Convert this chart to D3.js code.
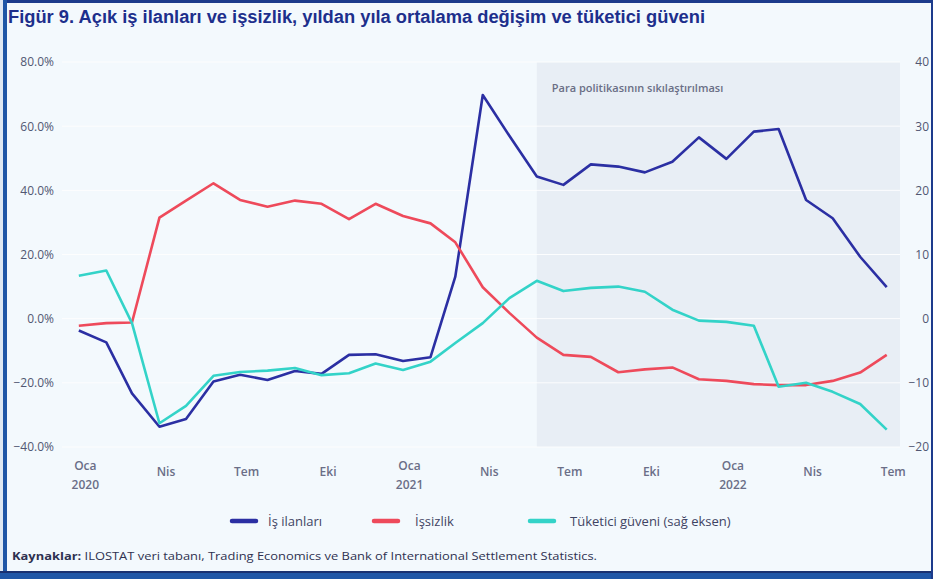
<!DOCTYPE html>
<html>
<head>
<meta charset="utf-8">
<script src="https://cdn.jsdelivr.net/npm/d3@7"></script>
<style>
  html, body { margin: 0; padding: 0; background: #f3f9fd; }
  svg { display: block; }
  text { font-family: "Open Sans", "DejaVu Sans", sans-serif; }
</style>
</head>
<body>
<svg id="chart" width="933" height="579"></svg>
<script>
// ---- Data (monthly, Jan 2020 – Jul 2022) ----
const months = [
  "2020-01","2020-02","2020-03","2020-04","2020-05","2020-06","2020-07","2020-08","2020-09","2020-10","2020-11","2020-12",
  "2021-01","2021-02","2021-03","2021-04","2021-05","2021-06","2021-07","2021-08","2021-09","2021-10","2021-11","2021-12",
  "2022-01","2022-02","2022-03","2022-04","2022-05","2022-06","2022-07"
];
// İş ilanları (% yoy, left axis)
const isIlanlari = [
  -3.7, -7.4, -23.3, -33.7, -31.3, -19.6, -17.5, -19.1, -16.3, -17.2, -11.3, -11.1,
  -13.2, -12.0, 13.1, 69.7, 57.0, 44.3, 41.7, 48.1, 47.4, 45.6, 48.9, 56.5,
  49.8, 58.3, 59.1, 37.0, 31.3, 19.3, 9.8
];
// İşsizlik (% yoy, left axis)
const issizlik = [
  -2.2, -1.4, -1.2, 31.5, 36.8, 42.2, 37.0, 34.9, 36.8, 35.8, 31.0, 35.8,
  32.0, 29.7, 23.8, 9.8, 1.8, -5.9, -11.3, -11.9, -16.7, -15.8, -15.2, -18.9,
  -19.4, -20.4, -20.7, -20.7, -19.4, -16.8, -11.3
];
// Tüketici güveni (right axis)
const tuketiciGuveni = [
  6.7, 7.5, -0.7, -16.3, -13.6, -8.9, -8.3, -8.1, -7.7, -8.8, -8.5, -7.0,
  -8.0, -6.7, -3.8, -0.7, 3.2, 5.9, 4.3, 4.8, 5.0, 4.2, 1.4, -0.3,
  -0.5, -1.1, -10.6, -10.0, -11.4, -13.3, -17.3
];
const xDomain = ["2019-12-13", "2022-07-16"];
const shadeStart = "2021-06-01";
const leftTicks = [-40, -20, 0, 20, 40, 60, 80];
const rightTicks = [-20, -10, 0, 10, 20, 30, 40];
const xTickDates = ["2020-01","2020-04","2020-07","2020-10","2021-01","2021-04","2021-07","2021-10","2022-01","2022-04","2022-07"];
const monthNames = ["Oca","Şub","Mar","Nis","May","Haz","Tem","Ağu","Eyl","Eki","Kas","Ara"];
const seriesNames = ["İş ilanları", "İşsizlik", "Tüketici güveni (sağ eksen)"];
const titleText = "Figür 9. Açık iş ilanları ve işsizlik, yıldan yıla ortalama değişim ve tüketici güveni";
const annotationText = "Para politikasının sıkılaştırılması";
const sourceBold = "Kaynaklar:";
const sourceRest = " ILOSTAT veri tabanı, Trading Economics ve Bank of International Settlement Statistics.";

// ---- Layout ----
const W = 933, H = 579;
const plot = { left: 62, right: 900, top: 62, bottom: 447 };
const colors = ["#2b2fa3", "#ee4a5b", "#33d3c8"];

const svg = d3.select("#chart");
const parseM = d3.timeParse("%Y-%m");
const parseD = d3.timeParse("%Y-%m-%d");
const dates = months.map(parseM);

const x = d3.scaleTime().domain(xDomain.map(parseD)).range([plot.left, plot.right]);
const yL = d3.scaleLinear().domain([-40, 80]).range([plot.bottom, plot.top]);
const yR = d3.scaleLinear().domain([-20, 40]).range([plot.bottom, plot.top]);

// background
svg.append("rect").attr("width", W).attr("height", H).attr("fill", "#f3f9fd");

// shaded region
svg.append("rect")
  .attr("x", x(parseD(shadeStart)))
  .attr("y", plot.top)
  .attr("width", plot.right - x(parseD(shadeStart)))
  .attr("height", plot.bottom - plot.top)
  .attr("fill", "#e8eef5");

// gridlines
svg.append("g").selectAll("line").data(leftTicks).join("line")
  .attr("x1", plot.left).attr("x2", plot.right)
  .attr("y1", d => yL(d)).attr("y2", d => yL(d))
  .attr("stroke", "#ffffff").attr("stroke-width", 1).attr("opacity", 0.9);

// left axis
const axL = d3.axisLeft(yL).tickValues(leftTicks).tickFormat(d => d3.format(".1f")(d) + "%").tickSize(0).tickPadding(0);
const gL = svg.append("g").attr("transform", "translate(54,0)").call(axL);
gL.select(".domain").remove();
gL.selectAll("text").attr("fill", "#515772").style("font-size", "12px").style("font-weight", 500).style("font-family", '"Open Sans", sans-serif');

// right axis
const axR = d3.axisRight(yR).tickValues(rightTicks).tickFormat(d3.format("d")).tickSize(0).tickPadding(0);
const gR = svg.append("g").attr("transform", "translate(929,0)").call(axR);
gR.select(".domain").remove();
gR.selectAll("text").attr("text-anchor", "end").attr("fill", "#515772").style("font-size", "12px").style("font-weight", 500).style("font-family", '"Open Sans", sans-serif');

// x axis
const xTicks = xTickDates.map(parseM);
const axX = d3.axisBottom(x).tickValues(xTicks).tickSize(0).tickFormat("");
const gX = svg.append("g").attr("transform", `translate(6,${plot.bottom})`).call(axX);
gX.select(".domain").remove();
gX.selectAll(".tick").each(function(d) {
  const g = d3.select(this);
  const m = monthNames[d.getMonth()];
  const t = g.append("text").attr("text-anchor", "middle").attr("fill", "#6a6e87")
    .style("font-size", "12px").style("font-weight", 600).style("font-family", '"Open Sans", sans-serif');
  if (d.getMonth() === 0) {
    t.append("tspan").attr("x", 0).attr("y", 23).text(m);
    t.append("tspan").attr("x", 0).attr("y", 41.5).text(d.getFullYear());
  } else {
    t.attr("y", 29).text(m);
  }
});

// annotation
svg.append("text")
  .attr("x", x(parseD(shadeStart)) + 15).attr("y", 92)
  .attr("fill", "#6a6e85")
  .style("font-size", "11px").style("font-weight", 600)
  .text(annotationText);

// lines
const series = [
  { values: isIlanlari, y: yL, color: colors[0] },
  { values: issizlik, y: yL, color: colors[1] },
  { values: tuketiciGuveni, y: yR, color: colors[2] }
];
series.forEach(s => {
  const line = d3.line().x((d, i) => x(dates[i])).y(d => s.y(d));
  svg.append("path").datum(s.values)
    .attr("d", line)
    .attr("fill", "none")
    .attr("stroke", s.color)
    .attr("stroke-width", 2.6)
    .attr("stroke-linejoin", "round");
});

// legend
const legendX = [232, 374, 530];
const legendTextX = [268, 415, 570];
const lg = svg.append("g");
seriesNames.forEach((name, i) => {
  lg.append("line")
    .attr("x1", legendX[i]).attr("x2", legendX[i] + 24)
    .attr("y1", 521).attr("y2", 521)
    .attr("stroke", colors[i]).attr("stroke-width", 4.5).attr("stroke-linecap", "round");
  lg.append("text")
    .attr("x", legendTextX[i]).attr("y", 525.5)
    .attr("fill", "#3f4463")
    .style("font-size", "13px")
    .text(name);
});

// title
svg.append("text")
  .attr("x", 8).attr("y", 23)
  .attr("fill", "#1d2f8c")
  .attr("textLength", 697).attr("lengthAdjust", "spacingAndGlyphs")
  .style("font-family", '"Liberation Sans Narrow", "Liberation Sans", Arial, sans-serif')
  .style("font-size", "17.5px").style("font-weight", 700)
  .text(titleText);

// source
const src = svg.append("text")
  .attr("x", 12).attr("y", 560)
  .attr("fill", "#2e3150")
  .attr("textLength", 585).attr("lengthAdjust", "spacingAndGlyphs")
  .style("font-size", "11px");
src.append("tspan").style("font-weight", 700).text(sourceBold);
src.append("tspan").text(sourceRest);

// frame
svg.append("rect").attr("x", 0).attr("y", 0).attr("width", W).attr("height", 3).attr("fill", "#1c3b8c");
svg.append("rect").attr("x", 3).attr("y", 0).attr("width", 4).attr("height", H).attr("fill", "#1f56a6");
svg.append("rect").attr("x", 0).attr("y", 0).attr("width", 3).attr("height", H).attr("fill", "#dfe8f2");
svg.append("rect").attr("x", 0).attr("y", 571).attr("width", W).attr("height", 2).attr("fill", "#183070");
svg.append("rect").attr("x", 0).attr("y", 573).attr("width", W).attr("height", 6).attr("fill", "#1f56a6");
svg.append("rect").attr("x", 931).attr("y", 0).attr("width", 2).attr("height", H).attr("fill", "#1c3b8c");
</script>
</body>
</html>
